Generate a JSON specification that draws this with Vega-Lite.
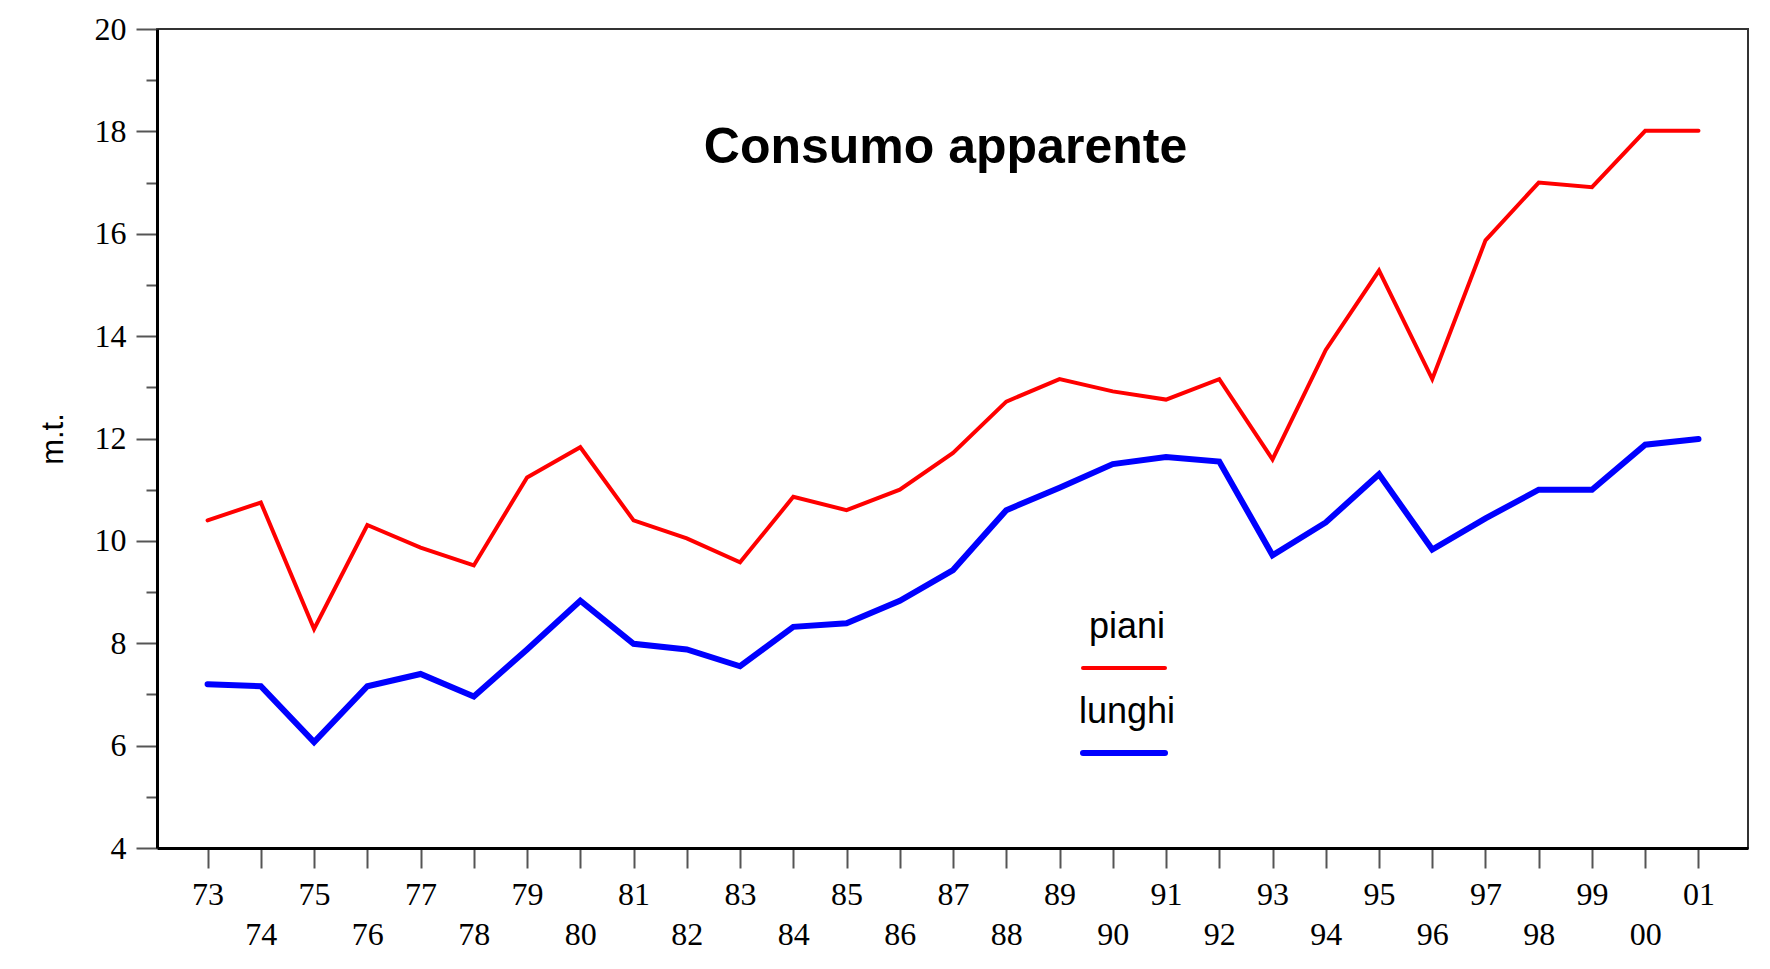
{
  "$schema": "https://vega.github.io/schema/vega-lite/v6.json",
  "width": 1591,
  "height": 819,
  "autosize": {"type": "none"},
  "padding": {"left": 157, "top": 29, "right": 22, "bottom": 121},
  "background": "white",
  "title": {
    "text": "Consumo apparente",
    "font": "Liberation Sans",
    "fontSize": 50,
    "fontWeight": "bold",
    "color": "black",
    "anchor": "middle",
    "baseline": "alphabetic",
    "offset": -200,
    "dx": -7
  },
  "config": {
    "view": {"stroke": "#333333", "strokeWidth": 2},
    "axis": {"grid": false}
  },
  "data": {
    "values": [
      {"year": 73, "series": "piani", "value": 10.40},
      {"year": 74, "series": "piani", "value": 10.75},
      {"year": 75, "series": "piani", "value": 8.28},
      {"year": 76, "series": "piani", "value": 10.31},
      {"year": 77, "series": "piani", "value": 9.87},
      {"year": 78, "series": "piani", "value": 9.52},
      {"year": 79, "series": "piani", "value": 11.24},
      {"year": 80, "series": "piani", "value": 11.83},
      {"year": 81, "series": "piani", "value": 10.40},
      {"year": 82, "series": "piani", "value": 10.05},
      {"year": 83, "series": "piani", "value": 9.58},
      {"year": 84, "series": "piani", "value": 10.86},
      {"year": 85, "series": "piani", "value": 10.60},
      {"year": 86, "series": "piani", "value": 11.00},
      {"year": 87, "series": "piani", "value": 11.72},
      {"year": 88, "series": "piani", "value": 12.72},
      {"year": 89, "series": "piani", "value": 13.16},
      {"year": 90, "series": "piani", "value": 12.92},
      {"year": 91, "series": "piani", "value": 12.76},
      {"year": 92, "series": "piani", "value": 13.16},
      {"year": 93, "series": "piani", "value": 11.59},
      {"year": 94, "series": "piani", "value": 13.73},
      {"year": 95, "series": "piani", "value": 15.28},
      {"year": 96, "series": "piani", "value": 13.16},
      {"year": 97, "series": "piani", "value": 15.87},
      {"year": 98, "series": "piani", "value": 17.00},
      {"year": 99, "series": "piani", "value": 16.91},
      {"year": 100, "series": "piani", "value": 18.01},
      {"year": 101, "series": "piani", "value": 18.01},
      {"year": 73, "series": "lunghi", "value": 7.20},
      {"year": 74, "series": "lunghi", "value": 7.16},
      {"year": 75, "series": "lunghi", "value": 6.07},
      {"year": 76, "series": "lunghi", "value": 7.16},
      {"year": 77, "series": "lunghi", "value": 7.40},
      {"year": 78, "series": "lunghi", "value": 6.96},
      {"year": 79, "series": "lunghi", "value": 7.88},
      {"year": 80, "series": "lunghi", "value": 8.83},
      {"year": 81, "series": "lunghi", "value": 7.99},
      {"year": 82, "series": "lunghi", "value": 7.88},
      {"year": 83, "series": "lunghi", "value": 7.55},
      {"year": 84, "series": "lunghi", "value": 8.32},
      {"year": 85, "series": "lunghi", "value": 8.39},
      {"year": 86, "series": "lunghi", "value": 8.83},
      {"year": 87, "series": "lunghi", "value": 9.43},
      {"year": 88, "series": "lunghi", "value": 10.60},
      {"year": 89, "series": "lunghi", "value": 11.04},
      {"year": 90, "series": "lunghi", "value": 11.50},
      {"year": 91, "series": "lunghi", "value": 11.64},
      {"year": 92, "series": "lunghi", "value": 11.55},
      {"year": 93, "series": "lunghi", "value": 9.72},
      {"year": 94, "series": "lunghi", "value": 10.36},
      {"year": 95, "series": "lunghi", "value": 11.30},
      {"year": 96, "series": "lunghi", "value": 9.83},
      {"year": 97, "series": "lunghi", "value": 10.44},
      {"year": 98, "series": "lunghi", "value": 11.00},
      {"year": 99, "series": "lunghi", "value": 11.00},
      {"year": 100, "series": "lunghi", "value": 11.88},
      {"year": 101, "series": "lunghi", "value": 11.99}
    ]
  },
  "mark": {"type": "line", "strokeCap": "round", "strokeJoin": "miter"},
  "encoding": {
    "x": {
      "field": "year",
      "type": "quantitative",
      "scale": {"domain": [72.05, 101.93], "nice": false, "zero": false},
      "axis": {
        "title": null,
        "values": [73,74,75,76,77,78,79,80,81,82,83,84,85,86,87,88,89,90,91,92,93,94,95,96,97,98,99,100,101],
        "labelExpr": "datum.value % 2 == 1 ? slice('0' + (datum.value % 100), -2) : ['', slice('0' + (datum.value % 100), -2)]",
        "labelFont": "Liberation Serif",
        "labelFontSize": 32,
        "labelColor": "black",
        "labelLineHeight": 40,
        "labelPadding": 11,
        "labelOverlap": false,
        "labelFlush": false,
        "tickSize": 20,
        "tickColor": "#555555",
        "tickWidth": 2,
        "domainColor": "black",
        "domainWidth": 3
      }
    },
    "y": {
      "field": "value",
      "type": "quantitative",
      "scale": {"domain": [4, 20], "nice": false, "zero": false},
      "axis": {
        "title": "m.t.",
        "titleFont": "Liberation Sans",
        "titleFontSize": 31,
        "titleFontWeight": "normal",
        "titleColor": "black",
        "titlePadding": 25,
        "values": [4,5,6,7,8,9,10,11,12,13,14,15,16,17,18,19,20],
        "labelExpr": "datum.value % 2 == 0 ? datum.label : ''",
        "labelFont": "Liberation Serif",
        "labelFontSize": 32,
        "labelColor": "black",
        "labelPadding": 10,
        "labelOverlap": false,
        "labelFlush": false,
        "tickSize": {"condition": {"test": "datum.value % 2 == 0", "value": 21}, "value": 11},
        "tickColor": "#555555",
        "tickWidth": 2,
        "domainColor": "black",
        "domainWidth": 3
      }
    },
    "color": {
      "field": "series",
      "type": "nominal",
      "scale": {"domain": ["piani", "lunghi"], "range": ["#ff0000", "#0000ff"]},
      "legend": {
        "title": null,
        "orient": "none",
        "legendX": 923,
        "legendY": 596,
        "direction": "vertical",
        "symbolType": "stroke",
        "symbolSize": 6724,
        "rowPadding": 18,
        "padding": 0,
        "labelFont": "Liberation Sans",
        "labelFontSize": 36,
        "labelColor": "black",
        "labelAlign": "center",
        "labelBaseline": "middle",
        "labelOffset": -41,
        "encode": {
          "labels": {"update": {"dy": {"value": -41}}},
          "symbols": {"update": {"strokeCap": {"value": "round"}}}
        }
      }
    },
    "strokeWidth": {
      "field": "series",
      "type": "nominal",
      "scale": {"domain": ["piani", "lunghi"], "range": [4, 6]},
      "legend": {
        "title": null,
        "orient": "none",
        "legendX": 923,
        "legendY": 596,
        "direction": "vertical",
        "symbolType": "stroke",
        "symbolSize": 6724,
        "rowPadding": 18,
        "padding": 0,
        "labelFont": "Liberation Sans",
        "labelFontSize": 36,
        "labelColor": "black",
        "labelAlign": "center",
        "labelBaseline": "middle",
        "labelOffset": -41,
        "encode": {
          "labels": {"update": {"dy": {"value": -41}}},
          "symbols": {"update": {"strokeCap": {"value": "round"}}}
        }
      }
    }
  }
}
